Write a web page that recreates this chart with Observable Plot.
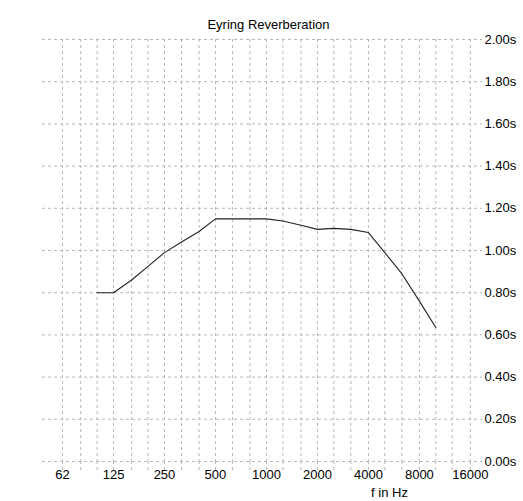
<!DOCTYPE html>
<html>
<head>
<meta charset="utf-8">
<script src="https://cdn.jsdelivr.net/npm/d3@7"></script>
<script src="https://cdn.jsdelivr.net/npm/@observablehq/plot@0.6"></script>
<style>
  html, body { margin: 0; padding: 0; background: #fff; }
</style>
</head>
<body>
<div id="chart"></div>
<script>
const title = "Eyring Reverberation";
const xLabel = "f in Hz";
const freqs = [100,125,160,200,250,315,400,500,630,800,1000,1250,1600,2000,2500,3150,4000,5000,6300,8000,10000];
const reverb = [0.80,0.80,0.86,0.925,0.99,1.04,1.09,1.15,1.15,1.15,1.15,1.14,1.12,1.10,1.105,1.10,1.085,0.99,0.89,0.76,0.635];
const gridFreqs = [62.5,80,100,125,160,200,250,315,400,500,630,800,1000,1250,1600,2000,2500,3150,4000,5000,6300,8000,10000,12500,16000];
const labelFreqs = [62.5,125,250,500,1000,2000,4000,8000,16000];
const labelTexts = ["62","125","250","500","1000","2000","4000","8000","16000"];
const yTicks = [0,0.2,0.4,0.6,0.8,1.0,1.2,1.4,1.6,1.8,2.0];

const data = freqs.map((f, i) => ({f, t: reverb[i]}));
const labels = labelFreqs.map((f, i) => ({f, s: labelTexts[i]}));
const gridColor = "#b8b8b8";

const chart = Plot.plot({
  width: 523,
  height: 501,
  marginTop: 39,
  marginBottom: 40,
  marginLeft: 42,
  marginRight: 41,
  style: {fontFamily: "'Liberation Sans', Arial, sans-serif", fontSize: "13px", color: "#000", background: "#fff"},
  x: {type: "log", domain: [47.6, 18870]},
  y: {domain: [0, 2]},
  marks: [
    Plot.gridY(yTicks, {stroke: gridColor, strokeOpacity: 1, strokeDasharray: "3,3"}),
    Plot.gridX(gridFreqs, {stroke: gridColor, strokeOpacity: 1, strokeDasharray: "3,3"}),
    Plot.axisX(gridFreqs, {tickSize: 11, tickFormat: () => "", stroke: gridColor, strokeDasharray: "3,3", label: null}),
    Plot.text(labels, {x: "f", text: "s", frameAnchor: "bottom", dy: 17, fill: "#000"}),
    Plot.axisY(yTicks, {anchor: "right", tickSize: 0, tickPadding: 2, tickFormat: d => d.toFixed(2) + "s", label: null}),
    Plot.line(data, {x: "f", y: "t", stroke: "#222", strokeWidth: 1.1}),
    Plot.text([title], {frameAnchor: "top", dx: 6, dy: -20, fill: "#000"}),
    Plot.text([xLabel], {frameAnchor: "bottom", dx: 127, dy: 35, fill: "#000"})
  ]
});
document.getElementById("chart").appendChild(chart);
</script>
</body>
</html>
